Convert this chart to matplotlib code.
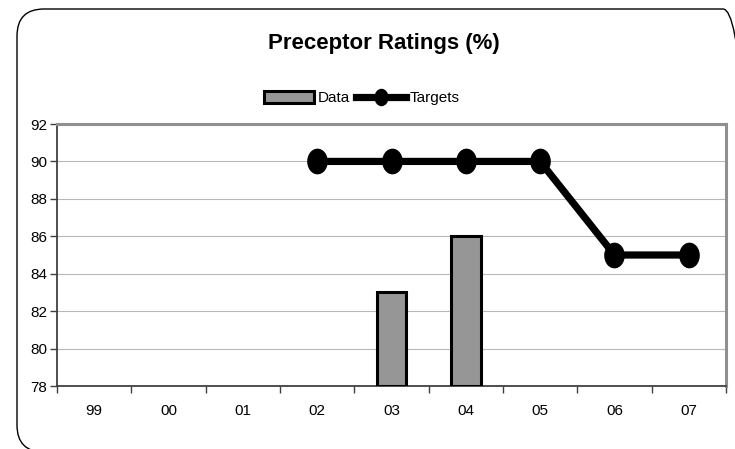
import numpy as np
import matplotlib.pyplot as plt
from matplotlib.patches import FancyBboxPatch
from matplotlib.path import Path
from matplotlib.transforms import Affine2D, IdentityTransform

plt.rcParams['font.family'] = ['Liberation Sans', 'DejaVu Sans']

years = ['99', '00', '01', '02', '03', '04', '05', '06', '07']
data = [None, None, None, None, 83, 86, None, None, None]
targets = [None, None, None, 90, 90, 90, 90, 85, 85]

W, H = 735, 449
fig = plt.figure(figsize=(W / 100, H / 100), dpi=100)

# rounded frame round the whole chart, in pixels (runs past right and bottom)
frame = FancyBboxPatch((17, H - 452), 733, 443,
                       boxstyle="round,pad=0,rounding_size=27",
                       transform=IdentityTransform(), fill=False, clip_on=False,
                       edgecolor='black', linewidth=1.0)
fig.patches.append(frame)

ax = fig.add_axes([57 / W, 1 - 386 / H, 669 / W, 262 / H])

x = np.arange(len(years))
bar_x = [i for i, v in enumerate(data) if v is not None]
bar_h = [v - 78 for v in data if v is not None]
ax.bar(bar_x, bar_h, bottom=78, width=0.4, color='#969696',
       edgecolor='black', linewidth=2.2, label='Data', zorder=3)

# slightly tall ellipse marker
ellipse = Path.unit_circle().transformed(Affine2D().scale(0.79, 1.0))
t_x = [i for i, v in enumerate(targets) if v is not None]
t_y = [v for v in targets if v is not None]
ax.plot(t_x, t_y, color='black', linewidth=5.2, marker=ellipse,
        markersize=17.5, label='Targets', zorder=4, clip_on=False)

ax.set_xlim(-0.5, len(years) - 0.5)
ax.set_ylim(78, 92)
ax.set_yticks(np.arange(78, 93, 2))
ax.set_xticks(x)
ax.set_xticklabels(years)
ax.set_xticks(np.arange(-0.5, len(years), 1), minor=True)
ax.tick_params(axis='x', which='major', length=0, pad=13, labelsize=11)
ax.tick_params(axis='x', which='minor', length=5, width=1, color='#404040')
ax.tick_params(axis='y', length=5, width=1, color='#404040', labelsize=11, pad=2)

ax.grid(axis='y', color='#b8b8b8', linewidth=0.8, zorder=0)
ax.set_axisbelow(True)
for side in ['left', 'bottom']:
    ax.spines[side].set_color('#404040')
    ax.spines[side].set_linewidth(1.3)
for side in ['top', 'right']:
    ax.spines[side].set_color('#909090')
    ax.spines[side].set_linewidth(2.2)

fig.text(384 / W, 1 - 43 / H, 'Preceptor Ratings (%)', ha='center', va='center',
         fontsize=16, fontweight='bold')

handles, labels = ax.get_legend_handles_labels()
order = [labels.index('Data'), labels.index('Targets')]
fig.legend([handles[i] for i in order], [labels[i] for i in order],
           loc='center', bbox_to_anchor=(362 / W, 1 - 98 / H), ncol=2,
           frameon=False, fontsize=11, handlelength=3.3, handleheight=0.85,
           handletextpad=0.25, columnspacing=0.35, markerscale=0.66,
           borderaxespad=0)

fig.savefig('out.png', dpi=100)
